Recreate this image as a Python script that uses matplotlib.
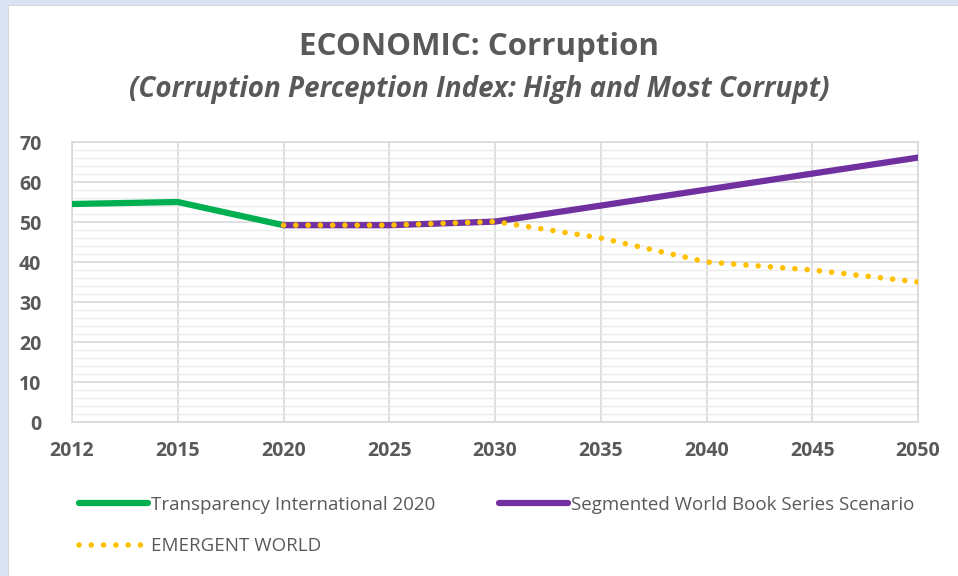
import matplotlib.pyplot as plt
from matplotlib.patches import Rectangle
import numpy as np

plt.rcParams['font.family'] = ['Open Sans', 'DejaVu Sans']

years = ['2012', '2015', '2020', '2025', '2030', '2035', '2040', '2045', '2050']
transparency = [54.5, 55.0, 49.2, None, None, None, None, None, None]
segmented = [None, None, 49.2, 49.2, 50.1, 54.1, 58.1, 62.1, 66.1]
emergent = [None, None, 49.2, 49.2, 50.1, 46.0, 40.0, 38.0, 35.0]

green = '#00B050'
purple = '#7030A0'
yellow = '#FFC000'
grey = '#595959'

def series(vals):
    return np.array([np.nan if v is None else v for v in vals], dtype=float)

x = np.arange(len(years))

fig = plt.figure(figsize=(9.58, 5.76), dpi=100)
fig.patch.set_facecolor('#DAE3F3')
fig.add_artist(Rectangle((8 / 958, -0.01), 1, 1 - 5 / 576 + 0.01, transform=fig.transFigure,
                         facecolor='white', edgecolor='#D9D9D9', lw=0.8, zorder=-1))

ax = fig.add_axes([72 / 958, 1 - 422 / 576, 846 / 958, 280 / 576])
ax.set_zorder(1)
ax.set_facecolor('white')

h1, = ax.plot(x, series(transparency), color=green, lw=4.5, solid_capstyle='round',
              label='Transparency International 2020', zorder=3)
h2, = ax.plot(x, series(segmented), color=purple, lw=4.5, solid_capstyle='round',
              label='Segmented World Book Series Scenario', zorder=3)
h3, = ax.plot(x, series(emergent), color=yellow, lw=4, linestyle=(0, (0.01, 2.2)),
              dash_capstyle='round', label='EMERGENT WORLD', zorder=4)

ax.set_xlim(0, len(years) - 1)
ax.set_ylim(0, 70)
ax.set_xticks(x)
ax.set_xticklabels(years)
ax.set_yticks(np.arange(0, 71, 10))
ax.set_yticks(np.arange(0, 71, 2), minor=True)
ax.grid(which='major', color='#D9D9D9', lw=1.2)
ax.grid(which='minor', axis='y', color='#EDEDED', lw=1)
ax.set_axisbelow(True)
for s in ax.spines.values():
    s.set_color('#D9D9D9')
    s.set_linewidth(1.2)
ax.tick_params(which='both', length=0)
ax.tick_params(axis='x', pad=14, labelsize=14, labelcolor=grey)
ax.tick_params(axis='y', pad=22, labelsize=14, labelcolor=grey)
for lab in ax.get_xticklabels() + ax.get_yticklabels():
    lab.set_fontweight('bold')

fig.text(0.5, 1 - 47 / 576, 'ECONOMIC: Corruption', ha='center', va='center',
         fontsize=22.5, fontweight='bold', color=grey)
fig.text(0.5, 1 - 90 / 576, '(Corruption Perception Index: High and Most Corrupt)',
         ha='center', va='center', fontsize=20, fontweight='bold', style='italic', color=grey)

fig.legend([h1, h3, h2], [h1.get_label(), h3.get_label(), h2.get_label()],
           loc='upper left', bbox_to_anchor=(62 / 958, 1 - 479 / 576), ncol=2,
           frameon=False, fontsize=13.5, handlelength=3.7, handletextpad=0.15,
           columnspacing=3.4, labelspacing=1.25, labelcolor=grey)

fig.savefig('out.png', dpi=100)
